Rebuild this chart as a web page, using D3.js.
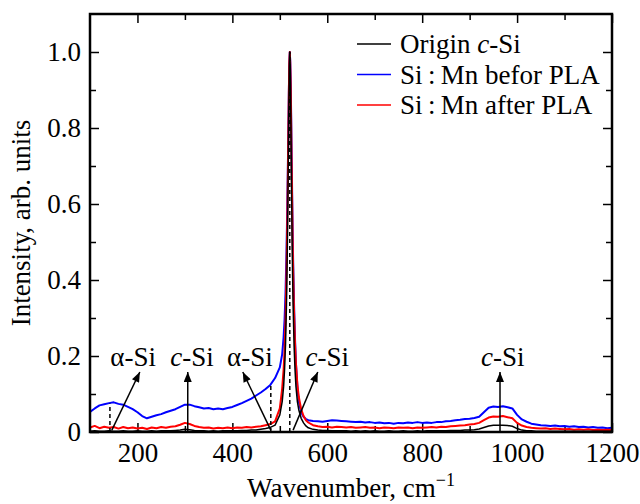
<!DOCTYPE html>
<html>
<head>
<meta charset="utf-8">
<script src="https://cdn.jsdelivr.net/npm/d3@7"></script>
<style>
  body { margin: 0; background: #fff; }
  svg text { font-family: "Liberation Serif", "Times New Roman", serif; fill: #000; }
</style>
</head>
<body>
<div id="chart"></div>
<script>
// Raman spectra, intensity normalised to the c-Si peak
const wavenumbers = [
  100, 110, 120, 130, 140, 150, 160, 170, 180, 190,
  200, 210, 220, 230, 240, 250, 260, 270, 280, 290,
  300, 310, 320, 330, 340, 350, 360, 370, 380, 390,
  400, 410, 420, 430, 440, 450, 460, 470, 480,
  490, 500, 505, 508, 510, 512, 514, 515, 516, 517,
  518, 519, 520, 521, 522, 523, 524, 525, 526, 527,
  528, 530, 532, 534, 537, 540, 545, 550, 555, 560,
  570,
  580, 590,
  600, 610, 620, 630, 640, 650, 660, 670, 680, 690,
  700, 710, 720, 730, 740, 750, 760, 770, 780, 790,
  800, 810, 820, 830, 840, 850, 860, 870, 880, 890,
  900, 910, 920, 930, 940, 950, 960, 970, 980, 990,
  1000, 1010, 1020, 1030, 1040, 1050, 1060, 1070, 1080, 1090,
  1100, 1110, 1120, 1130, 1140, 1150, 1160, 1170, 1180, 1190,
  1200
]

const originSi = [
  0.002, 0.003, 0.002, 0.002, 0.003, 0.002, 0.002, 0.003, 0.002, 0.002,
  0.003, 0.002, 0.002, 0.003, 0.002, 0.003, 0.003, 0.003, 0.004, 0.005,
  0.007, 0.006, 0.004, 0.003, 0.003, 0.002, 0.003, 0.002, 0.003, 0.003,
  0.003, 0.003, 0.004, 0.004, 0.005, 0.005, 0.007, 0.009, 0.012,
  0.018, 0.045, 0.08, 0.12, 0.165, 0.23, 0.335, 0.41, 0.5, 0.61,
  0.735, 0.86, 0.96, 1.0, 0.96, 0.86, 0.735, 0.61, 0.5, 0.41,
  0.335, 0.23, 0.165, 0.12, 0.08, 0.058, 0.036, 0.024, 0.016, 0.011,
  0.007,
  0.005, 0.004,
  0.004, 0.003, 0.003, 0.003, 0.003, 0.002, 0.003, 0.002, 0.003, 0.002,
  0.003, 0.002, 0.002, 0.003, 0.002, 0.002, 0.003, 0.002, 0.002, 0.003,
  0.002, 0.003, 0.003, 0.003, 0.003, 0.003, 0.004, 0.004, 0.004, 0.005,
  0.005, 0.006, 0.008, 0.012, 0.016, 0.018, 0.018, 0.018, 0.017, 0.015,
  0.009, 0.005, 0.003, 0.003, 0.002, 0.002, 0.002, 0.002, 0.002, 0.002,
  0.002, 0.002, 0.002, 0.002, 0.002, 0.002, 0.002, 0.002, 0.002, 0.002,
  0.002
]

const beforePLA = [
  0.053, 0.062, 0.07, 0.073, 0.076, 0.078, 0.074, 0.072, 0.066, 0.06,
  0.052, 0.042, 0.036, 0.04, 0.044, 0.047, 0.052, 0.056, 0.06, 0.066,
  0.072, 0.072, 0.068, 0.065, 0.062, 0.063, 0.06, 0.062, 0.06, 0.063,
  0.066, 0.071, 0.076, 0.082, 0.088, 0.096, 0.104, 0.113, 0.124,
  0.142, 0.17, 0.205, 0.25, 0.295, 0.365, 0.47, 0.54, 0.615, 0.7,
  0.795, 0.89, 0.965, 1.0, 0.975, 0.915, 0.825, 0.725, 0.625, 0.535,
  0.455, 0.335, 0.245, 0.18, 0.12, 0.08, 0.052, 0.04, 0.034, 0.031,
  0.029,
  0.028, 0.027,
  0.029, 0.031, 0.03, 0.029, 0.028, 0.027, 0.026, 0.027, 0.025, 0.026,
  0.024, 0.025, 0.023, 0.024, 0.022, 0.024, 0.023, 0.025, 0.024, 0.026,
  0.024, 0.025, 0.024, 0.026, 0.026, 0.028, 0.029, 0.031, 0.032, 0.034,
  0.035, 0.037, 0.04, 0.052, 0.064, 0.067, 0.066, 0.068, 0.065, 0.062,
  0.045, 0.033, 0.027, 0.022, 0.02, 0.018, 0.017, 0.016, 0.017, 0.015,
  0.016, 0.014, 0.015, 0.013, 0.014, 0.012, 0.013, 0.011, 0.012, 0.01,
  0.011
]

const afterPLA = [
  0.012, 0.016, 0.01, 0.014, 0.011, 0.013, 0.009, 0.013, 0.01, 0.012,
  0.009, 0.011, 0.008, 0.012, 0.01, 0.013, 0.011, 0.014, 0.015, 0.019,
  0.024, 0.021, 0.016, 0.013, 0.011, 0.012, 0.009, 0.011, 0.01, 0.012,
  0.01, 0.012, 0.011, 0.013, 0.012, 0.014, 0.015, 0.018, 0.021,
  0.028, 0.062, 0.115, 0.165, 0.215, 0.295, 0.415, 0.495, 0.58, 0.68,
  0.79, 0.89, 0.97, 1.0, 0.97, 0.9, 0.8, 0.7, 0.6, 0.51,
  0.43, 0.315, 0.235, 0.18, 0.125, 0.092, 0.06, 0.042, 0.031, 0.025,
  0.018,
  0.015, 0.013,
  0.014, 0.012, 0.014, 0.013, 0.012, 0.013, 0.011, 0.012, 0.013, 0.011,
  0.012, 0.01, 0.012, 0.011, 0.01, 0.012, 0.011, 0.012, 0.01, 0.012,
  0.011, 0.012, 0.013, 0.012, 0.014, 0.013, 0.015, 0.016, 0.017, 0.018,
  0.02, 0.021, 0.024, 0.031, 0.038, 0.041, 0.04, 0.042, 0.039, 0.036,
  0.024, 0.017, 0.013, 0.011, 0.01, 0.009, 0.01, 0.008, 0.009, 0.008,
  0.007, 0.008, 0.006, 0.007, 0.006, 0.007, 0.005, 0.006, 0.005, 0.006,
  0.005
]

const seriesNames = ['Origin c-Si', 'Si\u2009:\u2009Mn befor PLA', 'Si\u2009:\u2009Mn after PLA']
const seriesColors = ['#000000', '#0000ff', '#ff0000']

const xMajorTicks = [200, 400, 600, 800, 1000, 1200]
const xMinorTicks = [300, 500, 700, 900, 1100]
const yMajorTicks = [0, 0.2, 0.4, 0.6, 0.8, 1.0]
const yMinorTicks = [0.1, 0.3, 0.5, 0.7, 0.9]

// phonon band markers: dashed drop lines and labelled arrows
const dashX = [142, 481, 521]
const dashTop = [0.075, 0.125, 1.0]
const annoText = ['α-Si', 'c-Si', 'α-Si', 'c-Si', 'c-Si']
const annoX = [191, 315, 437, 600, 970]
const annoY = 0.174
const arrowFrom = [[146, 0.005], [306, 0.002], [481, 0.005], [528, 0.005], [964, 0.002]]
const arrowTo = [[205, 0.158], [306, 0.158], [422, 0.158], [580, 0.158], [964, 0.158]]

const width = 640
const height = 504
const margin = { top: 14, right: 28, bottom: 72, left: 90 }
const innerW = width - margin.left - margin.right
const innerH = height - margin.top - margin.bottom
const fontSize = 27

const svg = d3.select('#chart')
  .append('svg')
  .attr('width', width)
  .attr('height', height)

const defs = svg.append('defs')
defs.append('marker')
  .attr('id', 'head')
  .attr('markerUnits', 'userSpaceOnUse')
  .attr('viewBox', '0 0 10 8')
  .attr('refX', 10)
  .attr('refY', 4)
  .attr('markerWidth', 11)
  .attr('markerHeight', 8)
  .attr('orient', 'auto')
  .append('path')
  .attr('d', 'M0,0 L10,4 L0,8 Z')
  .attr('fill', '#000')

const g = svg.append('g').attr('transform', `translate(${margin.left},${margin.top})`)

const x = d3.scaleLinear().domain([100, 1200]).range([0, innerW])
const y = d3.scaleLinear().domain([0, 1.1]).range([innerH, 0])

// text with an italic "c" in c-Si
function richText(sel, str) {
  const parts = str.split(/(c)(?=-Si)/)
  parts.forEach((p) => {
    if (!p) return
    sel.append('tspan').attr('font-style', p === 'c' ? 'italic' : null).text(p)
  })
}

// axes: ticks point inwards on all four sides
function styleAxis(sel) {
  sel.select('.domain').remove()
  sel.selectAll('line').attr('stroke', '#000').attr('stroke-width', 1.5)
  sel.selectAll('text')
    .attr('font-family', '"Liberation Serif", serif')
    .attr('font-size', fontSize)
    .attr('fill', '#000')
}

const fmtY = (d) => (d === 0 ? '0' : d3.format('.1f')(d))

g.append('g')
  .attr('transform', `translate(0,${innerH})`)
  .call(d3.axisBottom(x).tickValues(xMajorTicks).tickSize(-9).tickPadding(11).tickFormat(d3.format('d')))
  .call(styleAxis)
g.append('g')
  .attr('transform', `translate(0,${innerH})`)
  .call(d3.axisBottom(x).tickValues(xMinorTicks).tickSize(-6).tickFormat(''))
  .call(styleAxis)
g.append('g')
  .call(d3.axisTop(x).tickValues(xMajorTicks).tickSize(-9).tickFormat(''))
  .call(styleAxis)
g.append('g')
  .call(d3.axisTop(x).tickValues(xMinorTicks).tickSize(-6).tickFormat(''))
  .call(styleAxis)

g.append('g')
  .call(d3.axisLeft(y).tickValues(yMajorTicks).tickSize(-9).tickPadding(9).tickFormat(fmtY))
  .call(styleAxis)
g.append('g')
  .call(d3.axisLeft(y).tickValues(yMinorTicks).tickSize(-6).tickFormat(''))
  .call(styleAxis)
g.append('g')
  .attr('transform', `translate(${innerW},0)`)
  .call(d3.axisRight(y).tickValues(yMajorTicks).tickSize(-9).tickFormat(''))
  .call(styleAxis)
g.append('g')
  .attr('transform', `translate(${innerW},0)`)
  .call(d3.axisRight(y).tickValues(yMinorTicks).tickSize(-6).tickFormat(''))
  .call(styleAxis)

// spectra: blue first, red over it, black on top
const line = d3.line()
  .x((d) => x(d[0]))
  .y((d) => y(d[1]))

const plot = g.append('g')
const seriesData = [beforePLA, afterPLA, originSi]
const seriesOrder = [1, 2, 0]
seriesData.forEach((vals, i) => {
  plot.append('path')
    .datum(wavenumbers.map((w, j) => [w, vals[j]]))
    .attr('d', line)
    .attr('fill', 'none')
    .attr('stroke', seriesColors[seriesOrder[i]])
    .attr('stroke-width', seriesOrder[i] === 0 ? 1.5 : 2)
    .attr('stroke-linejoin', 'round')
})

// dashed drop lines
g.selectAll('.drop')
  .data(dashX)
  .join('line')
  .attr('class', 'drop')
  .attr('x1', (d) => x(d))
  .attr('x2', (d) => x(d))
  .attr('y1', y(0))
  .attr('y2', (d, i) => y(dashTop[i]))
  .attr('stroke', '#000')
  .attr('stroke-width', 1.5)
  .attr('stroke-dasharray', '4,3')

// arrows and labels
g.selectAll('.arrow')
  .data(arrowFrom)
  .join('line')
  .attr('class', 'arrow')
  .attr('x1', (d) => x(d[0]))
  .attr('y1', (d) => y(d[1]))
  .attr('x2', (d, i) => x(arrowTo[i][0]))
  .attr('y2', (d, i) => y(arrowTo[i][1]))
  .attr('stroke', '#000')
  .attr('stroke-width', 1.5)
  .attr('marker-end', 'url(#head)')

annoText.forEach((t, i) => {
  g.append('text')
    .attr('x', x(annoX[i]))
    .attr('y', y(annoY))
    .attr('text-anchor', 'middle')
    .attr('font-size', fontSize)
    .call(richText, t)
})

// frame
g.append('rect')
  .attr('width', innerW)
  .attr('height', innerH)
  .attr('fill', 'none')
  .attr('stroke', '#000')
  .attr('stroke-width', 2.5)

// legend
const legend = svg.append('g').attr('transform', 'translate(357,44)')
seriesNames.forEach((name, i) => {
  const row = legend.append('g').attr('transform', `translate(0,${i * 30.5})`)
  row.append('line')
    .attr('x1', 0).attr('x2', 34)
    .attr('stroke', seriesColors[i])
    .attr('stroke-width', 1.5)
  row.append('text')
    .attr('x', 43)
    .attr('y', 9)
    .attr('font-size', fontSize)
    .call(richText, name)
})

// axis titles
svg.append('text')
  .attr('transform', `translate(30,${margin.top + innerH / 2}) rotate(-90)`)
  .attr('text-anchor', 'middle')
  .attr('font-size', fontSize)
  .text('Intensity, arb. units')

const xt = svg.append('text')
  .attr('x', margin.left + innerW / 2)
  .attr('y', 497)
  .attr('text-anchor', 'middle')
  .attr('font-size', fontSize)
xt.append('tspan').text('Wavenumber, cm')
xt.append('tspan').attr('font-size', 18).attr('dy', -11).text('\u22121')
</script>
</body>
</html>
